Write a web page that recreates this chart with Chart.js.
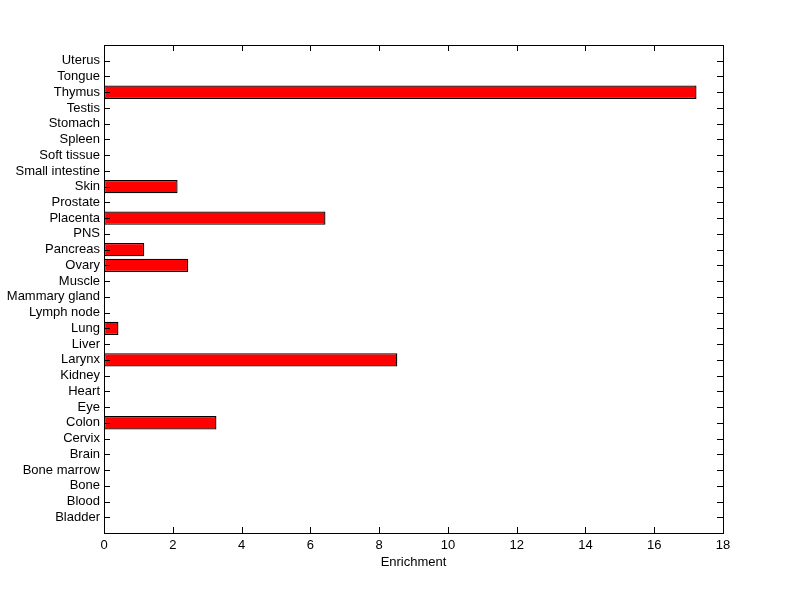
<!DOCTYPE html>
<html>
<head>
<meta charset="utf-8">
<script src="https://cdn.jsdelivr.net/npm/chart.js@4/dist/chart.umd.min.js"></script>
<style>
  html, body { margin: 0; padding: 0; background: #fff; }
  #wrap { width: 800px; height: 599px; }
</style>
</head>
<body>
<div id="wrap"><canvas id="enrichChart" width="800" height="599"></canvas></div>
<script>
// tissues, bottom to top
const tissues = ['Bladder', 'Blood', 'Bone', 'Bone marrow', 'Brain', 'Cervix', 'Colon', 'Eye', 'Heart',
    'Kidney', 'Larynx', 'Liver', 'Lung', 'Lymph node', 'Mammary gland', 'Muscle', 'Ovary', 'Pancreas',
    'PNS', 'Placenta', 'Prostate', 'Skin', 'Small intestine', 'Soft tissue', 'Spleen', 'Stomach',
    'Testis', 'Thymus', 'Tongue', 'Uterus'];
const enrichment = [0, 0, 0, 0, 0, 0, 3.27, 0, 0,
    0, 8.53, 0, 0.42, 0, 0, 0, 2.45, 1.17,
    0, 6.44, 0, 2.14, 0, 0, 0, 0,
    0, 17.23, 0, 0];
const xTicks = [0, 2, 4, 6, 8, 10, 12, 14, 16, 18];

// pad one empty slot at each end so the box has a full step above and below
const labels = [''].concat(tissues, ['']);
const values = [null].concat(enrichment.map(v => v === 0 ? null : v), [null]);

const font = { family: 'Liberation Sans, Arial, sans-serif', size: 13 };

// matlab style box with inward ticks on all four sides
const boxPlugin = {
    id: 'box',
    afterDraw(chart) {
        const ctx = chart.ctx;
        const a = chart.chartArea;
        const xs = chart.scales.x, ys = chart.scales.y;
        const len = 6;
        ctx.save();
        ctx.strokeStyle = '#000';
        ctx.lineWidth = 1;
        ctx.beginPath();
        xTicks.forEach(t => {
            const px = Math.round(xs.getPixelForValue(t)) + 0.5;
            ctx.moveTo(px, a.bottom);
            ctx.lineTo(px, a.bottom - len);
            ctx.moveTo(px, a.top);
            ctx.lineTo(px, a.top + len);
        });
        tissues.forEach((t, i) => {
            const py = Math.round(ys.getPixelForValue(i + 1)) + 0.5;
            ctx.moveTo(a.left, py);
            ctx.lineTo(a.left + len, py);
            ctx.moveTo(a.right, py);
            ctx.lineTo(a.right - len, py);
        });
        ctx.stroke();
        ctx.strokeRect(Math.round(a.left) + 0.5, Math.round(a.top) + 0.5,
            Math.round(a.right - a.left), Math.round(a.bottom - a.top));
        ctx.restore();
    }
};

new Chart(document.getElementById('enrichChart'), {
    type: 'bar',
    data: {
        labels: labels,
        datasets: [{
            data: values,
            backgroundColor: '#ff0000',
            borderColor: '#000000',
            borderWidth: 1.3,
            borderSkipped: false,
            barPercentage: 0.85,
            categoryPercentage: 1
        }]
    },
    options: {
        indexAxis: 'y',
        responsive: false,
        animation: false,
        layout: { padding: { left: 0, top: 45, right: 77, bottom: 29 } },
        plugins: {
            legend: { display: false },
            tooltip: { enabled: false }
        },
        scales: {
            x: {
                type: 'linear',
                min: 0,
                max: 18,
                afterBuildTicks: scale => { scale.ticks = xTicks.map(v => ({ value: v })); },
                afterFit: scale => { scale.height = 37; },
                grid: { display: false, drawTicks: false },
                border: { display: false },
                ticks: { color: '#000', font: font, padding: 5, maxRotation: 0 },
                title: { display: true, text: 'Enrichment', color: '#000', font: font, padding: { top: 0, bottom: 0 } }
            },
            y: {
                type: 'category',
                reverse: true,
                offset: false,
                afterFit: scale => { scale.width = 104; },
                grid: { display: false, drawTicks: false },
                border: { display: false },
                ticks: { color: '#000', font: font, padding: 4, autoSkip: false }
            }
        }
    },
    plugins: [boxPlugin]
});
</script>
</body>
</html>
